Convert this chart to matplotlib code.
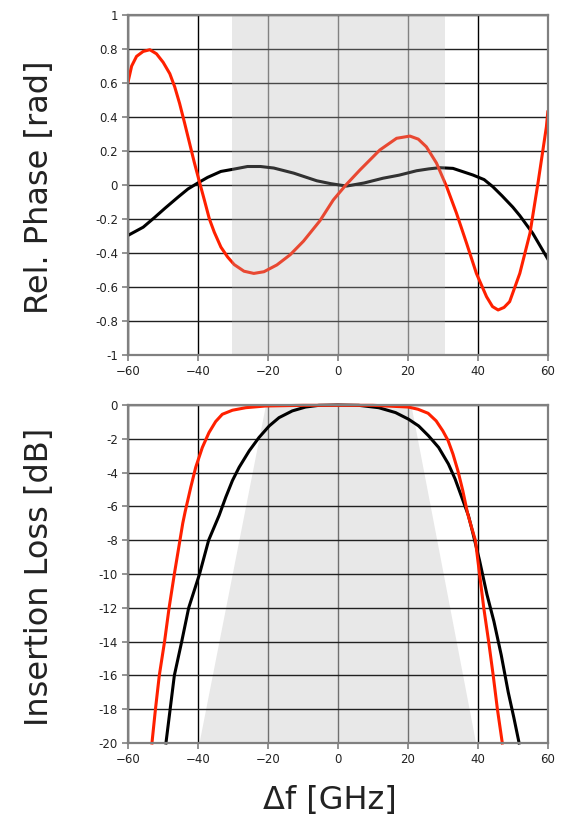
import matplotlib.pyplot as plt
from matplotlib.patches import Polygon

# phase response, red (optimised) and black (reference) filter
ph_red_f = [-60, -58.9, -57.5, -55.6, -53.7, -51.8, -49.9, -48.0, -46.6, -45.2, -43.8, -42.4,
            -41.0, -39.5, -38.1, -36.7, -35.3, -33.4, -31.5, -29.6, -26.8, -24, -21.1, -17.4,
            -13.6, -9.8, -5.1, -1.3, 2.3, 6.3, 12, 16.8, 20.6, 23, 25.3, 28.2, 31.1, 33.9,
            36.8, 39.6, 42.5, 44.2, 45.8, 47.5, 49.1, 52, 54.9, 57.2, 59.6, 60]
ph_red = [0.60, 0.70, 0.757, 0.786, 0.796, 0.772, 0.722, 0.655, 0.578, 0.48, 0.367, 0.25,
          0.133, 0.016, -0.09, -0.199, -0.277, -0.365, -0.423, -0.468, -0.507, -0.52, -0.51, -0.47,
          -0.41, -0.33, -0.21, -0.088, 0.0, 0.088, 0.206, 0.275, 0.288, 0.27, 0.225, 0.129, -0.01, -0.165,
          -0.343, -0.52, -0.657, -0.715, -0.735, -0.72, -0.686, -0.52, -0.284, 0.012, 0.343, 0.43]
ph_blk_f = [-60, -55.6, -52.3, -49.4, -45.7, -42.8, -40, -37.2, -33.4, -29.6, -25.8, -22.1,
            -18.3, -12.6, -6, -2, 2.5, 7.5, 12.9, 17.5, 22.5, 26, 29.1, 32.9, 38.6, 41.8,
            44.3, 46.9, 50, 52, 55.7, 60]
ph_blk = [-0.297, -0.248, -0.19, -0.137, -0.072, -0.023, 0.012, 0.045, 0.08, 0.094, 0.109, 0.109,
          0.10, 0.07, 0.025, 0.008, -0.006, 0.012, 0.04, 0.058, 0.084, 0.095, 0.102, 0.098, 0.059, 0.032,
          -0.01, -0.063, -0.13, -0.18, -0.284, -0.435]

# insertion loss
il_red_f = [-53.1, -52.1, -51, -49.5, -48.2, -46.7, -45.1, -44.3, -43.6, -42.0, -40.6, -38.7,
            -36.8, -34.9, -33.0, -30.1, -26.3, -20.7, -10, 0, 10, 20.1, 22.9, 25.8, 28.1,
            30, 31.5, 32.9, 34.3, 35.7, 37.1, 38.3, 39.3, 40.5, 41.7, 43.1, 44.4, 45.6, 47.0]
il_red = [-20, -18, -16, -14, -12, -10, -8, -7, -6.3, -4.86, -3.69, -2.51,
          -1.63, -0.98, -0.55, -0.31, -0.16, -0.06, -0.02, -0.02, -0.02, -0.12, -0.25, -0.49, -0.94,
          -1.53, -2.1, -2.9, -3.88, -5.06, -6.43, -7.3, -8, -10, -12, -14, -16, -18, -20]
il_blk_f = [-49.1, -47.9, -46.7, -44.6, -42.6, -39.5, -36.9, -33.9, -32, -30.1, -28.2, -25.3,
            -22.5, -19.6, -16.8, -13, -9.2, -5.4, 0, 6, 11.7, 16.5, 20.2, 23.1, 25.9, 28.8,
            31.6, 33.5, 35.4, 37.3, 38.5, 40.5, 42.6, 44.6, 46.7, 48.7, 50.3, 51.8]
il_blk = [-20, -18, -16, -14, -12, -10, -8, -6.53, -5.45, -4.47, -3.69, -2.71,
          -1.92, -1.24, -0.75, -0.35, -0.12, -0.02, 0, -0.02, -0.16, -0.45, -0.84, -1.24, -1.82, -2.51,
          -3.49, -4.37, -5.45, -6.53, -7.5, -9.2, -11.2, -12.8, -14.8, -17, -18.5, -20]

# shaded passband regions
band_phase = [-30.3, 30.6]
band_loss_x = [-39.5, -20.5, 21, 39.5]
band_loss_y = [-20, 0, 0, -20]

red = '#ff2000'
frame = '#808080'

fig = plt.figure(figsize=(5.63, 8.18), dpi=100)
ax1 = fig.add_axes([0.227, 0.566, 0.746, 0.4156])
ax2 = fig.add_axes([0.227, 0.0917, 0.746, 0.4132])


def style(ax, yticks, ylabels):
    ax.set_xlim(-60, 60)
    ax.set_xticks(range(-60, 61, 20))
    ax.set_yticks(yticks)
    ax.set_yticklabels(ylabels)
    for x in range(-60, 61, 20):
        c = '#707070' if x in (-20, 0, 20) else 'black'
        ax.axvline(x, color=c, lw=1, zorder=1)
    for y in yticks:
        ax.axhline(y, color='#202020', lw=1, zorder=1)
    for s in ax.spines.values():
        s.set_color(frame)
        s.set_linewidth(1.6)
        s.set_zorder(6)
    ax.tick_params(direction='out', length=4, width=1.2, color=frame,
                   labelsize=8.5, labelcolor='#222222', pad=3)


style(ax1, [1 - 0.2 * i for i in range(11)],
      ['1', '0.8', '0.6', '0.4', '0.2', '0', '-0.2', '-0.4', '-0.6', '-0.8', '-1'])
ax1.set_ylim(-1, 1)
ax1.plot(ph_blk_f, ph_blk, color='black', lw=2.2, zorder=3)
ax1.plot(ph_red_f, ph_red, color=red, lw=2.2, zorder=4)
ax1.axvspan(band_phase[0], band_phase[1], color='#afafaf', alpha=0.286, lw=0, zorder=5)

style(ax2, list(range(0, -21, -2)), [str(v) for v in range(0, -21, -2)])
ax2.set_ylim(-20, 0)
ax2.add_patch(Polygon(list(zip(band_loss_x, band_loss_y)), closed=True,
                      facecolor='#e8e8e8', edgecolor='none', zorder=0))
ax2.plot(il_blk_f, il_blk, color='black', lw=2.2, zorder=3, clip_on=False)
ax2.plot(il_red_f, il_red, color=red, lw=2.2, zorder=4, clip_on=False)

fig.text(0.071, 0.7705, 'Rel. Phase [rad]', rotation=90, ha='center', va='center',
         fontsize=23, color='#222222')
fig.text(0.071, 0.2945, 'Insertion Loss [dB]', rotation=90, ha='center', va='center',
         fontsize=23, color='#222222')
fig.text(0.586, 0.022, '\u0394f [GHz]', ha='center', va='center', fontsize=23, color='#222222')

fig.savefig('out.png', dpi=100)
